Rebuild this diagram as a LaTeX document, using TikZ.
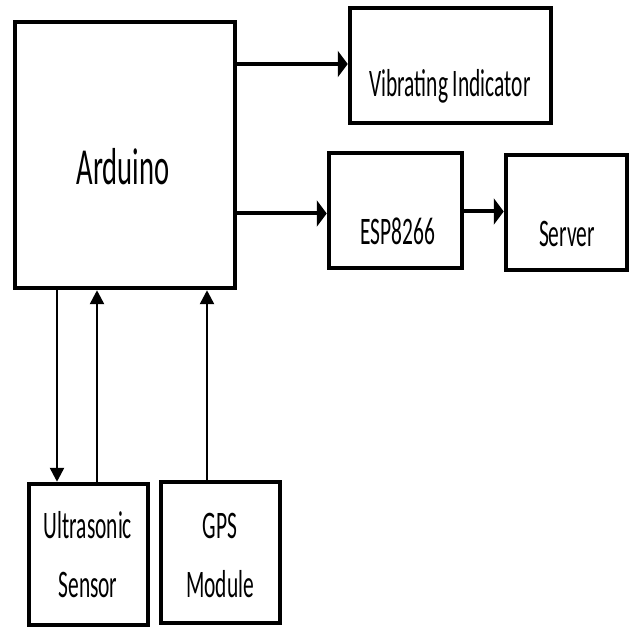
\documentclass[tikz,border=0pt]{standalone}
\usepackage{fontspec}
\setmainfont[FakeStretch=0.55]{Carlito}
\usetikzlibrary{arrows.meta}
\begin{document}
\begin{tikzpicture}[x=1pt,y=-1pt,
  box/.style={draw=black,line width=4.5pt,rectangle,inner sep=0pt},
  txt/.style={anchor=base,inner sep=0pt,font=\fontsize{39}{39}\selectfont},
  bigtxt/.style={anchor=base,inner sep=0pt,font=\fontsize{52}{52}\selectfont},
  harrow/.style={line width=4pt,-{Triangle[length=10pt,width=26pt]}},
  varrow/.style={line width=2.6pt,-{Triangle[length=14pt,width=14pt]}}]
\useasboundingbox (0,0) rectangle (629,628);
\node[box,minimum width=220pt,minimum height=266pt] (ard) at (125,155) {};
\node[box,minimum width=201pt,minimum height=115pt] (vib) at (450.5,65.5) {};
\node[box,minimum width=133pt,minimum height=115pt] (esp) at (395.5,210.5) {};
\node[box,minimum width=121pt,minimum height=115pt] (srv) at (566.5,212.5) {};
\node[box,minimum width=119pt,minimum height=141pt] (us) at (88.5,554.5) {};
\node[box,minimum width=119pt,minimum height=141pt] (gps) at (220.5,552.5) {};
\node[bigtxt] (ardt) at (123,185) {Arduino};
\node[txt] (vibt) at (450,97) {Vibrating Indicator};
\node[txt] (espt) at (398,245) {ESP8266};
\node[txt] (srvt) at (567,247) {Server};
\node[txt] (ust1) at (88,538) {Ultrasonic};
\node[txt] (ust2) at (88,597) {Sensor};
\node[txt] (gpst1) at (220,538) {GPS};
\node[txt] (gpst2) at (220,597) {Module};
\draw[harrow] ([yshift=1.5pt]ard.east |- vib.west) -- ([yshift=1.5pt]vib.west);
\draw[harrow] ([yshift=-3pt]ard.east |- esp.west) -- ([yshift=-3pt]esp.west);
\draw[harrow] ([yshift=-1pt]esp.east) -- ([yshift=-1pt]srv.west |- esp.east);
\draw[varrow] ([xshift=-31.5pt]us.north |- ard.south) -- ([xshift=-31.5pt]us.north);
\draw[varrow] ([xshift=8.5pt]us.north) -- ([xshift=8.5pt]us.north |- ard.south);
\draw[varrow] ([xshift=-13.5pt]gps.north) -- ([xshift=-13.5pt]gps.north |- ard.south);
\end{tikzpicture}
\end{document}
